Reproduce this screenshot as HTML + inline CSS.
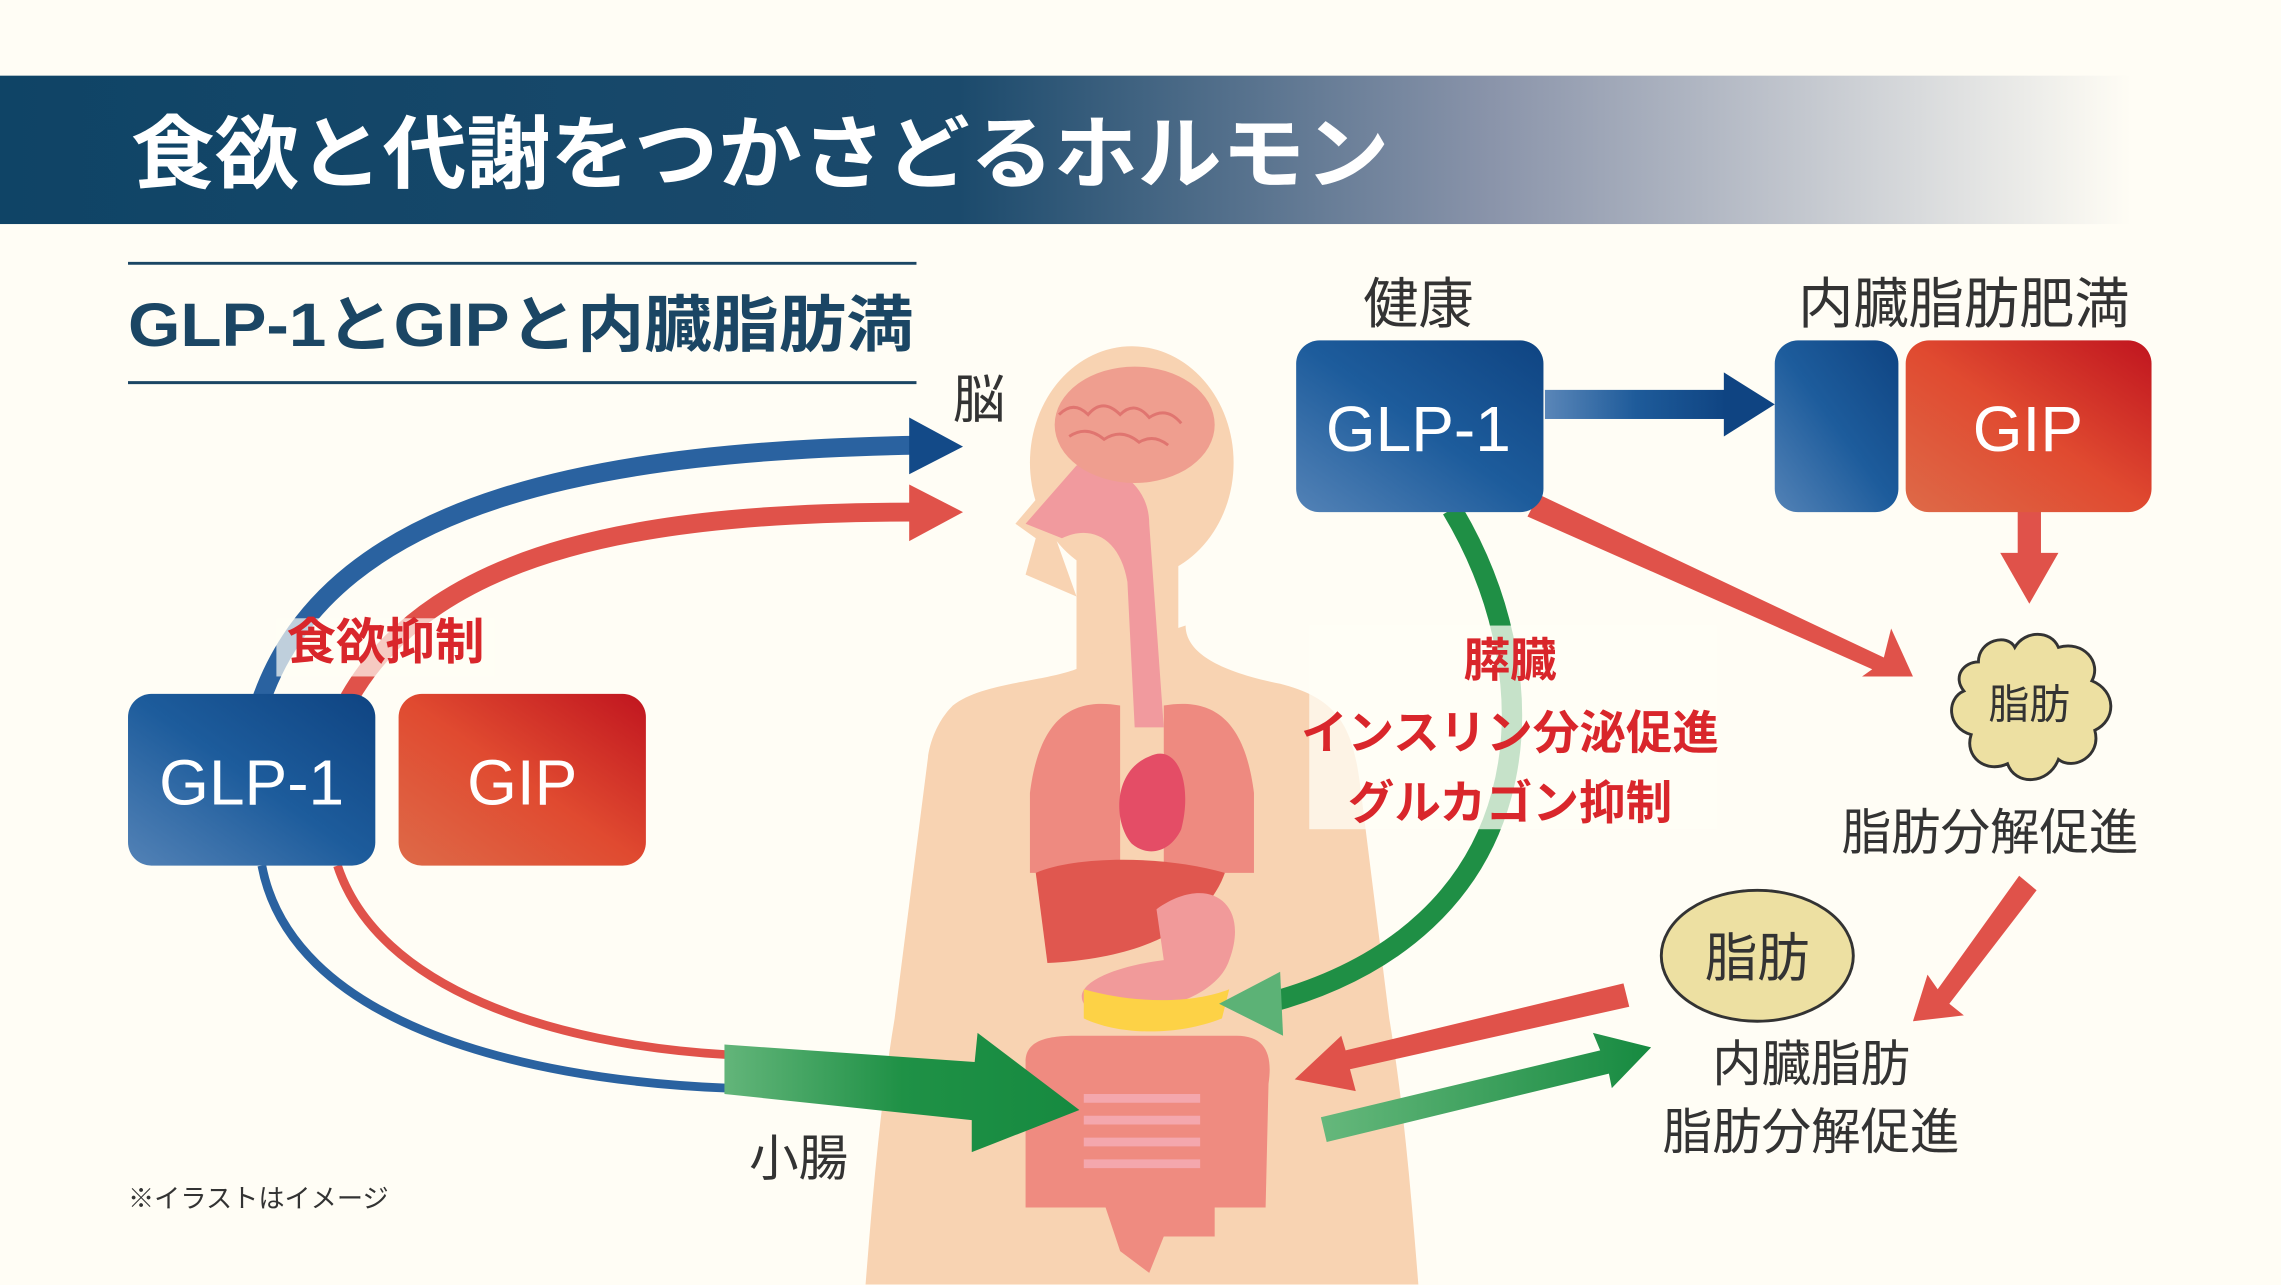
<!DOCTYPE html>
<html><head><meta charset="utf-8"><style>
html,body{margin:0;padding:0;background:#fffdf5;}
svg{display:block;}
text{font-family:"Liberation Sans","Noto Sans CJK JP",sans-serif;}
</style></head><body>
<svg width="2281" height="1285" viewBox="0 0 1568 883.3" xmlns="http://www.w3.org/2000/svg">
<defs>
<linearGradient id="hdr" x1="0" x2="1" y1="0" y2="0">
<stop offset="0" stop-color="#0f4466"/><stop offset="0.45" stop-color="#1b4a6c"/><stop offset="0.7" stop-color="#8a94aa"/><stop offset="1" stop-color="#fffdf5"/></linearGradient>
<linearGradient id="blue" x1="0" y1="1" x2="1" y2="0"><stop offset="0" stop-color="#5382b6"/><stop offset="0.5" stop-color="#1d5c9c"/><stop offset="1" stop-color="#0f4482"/></linearGradient>
<linearGradient id="red" x1="0" y1="1" x2="1" y2="0"><stop offset="0" stop-color="#de6a48"/><stop offset="0.5" stop-color="#e04a30"/><stop offset="1" stop-color="#c0151f"/></linearGradient>
<linearGradient id="grn" x1="0" x2="1"><stop offset="0" stop-color="#63b57a"/><stop offset="0.5" stop-color="#1f9146"/><stop offset="1" stop-color="#168a40"/></linearGradient>
<linearGradient id="grn2" x1="1" x2="0"><stop offset="0" stop-color="#168a40"/><stop offset="1" stop-color="#66b87c"/></linearGradient>
<linearGradient id="barr" x1="0" x2="1"><stop offset="0" stop-color="#5a86b8"/><stop offset="0.5" stop-color="#1e5b9a"/><stop offset="1" stop-color="#0f4482"/></linearGradient>
</defs>
<rect width="1568" height="883.3" fill="#fffdf5"/>
<rect x="0" y="52" width="1465" height="102" fill="url(#hdr)"/>
<text x="90" y="125" font-size="55" font-weight="bold" fill="#fff" textLength="865" lengthAdjust="spacingAndGlyphs">食欲と代謝をつかさどるホルモン</text>
<line x1="88" y1="181" x2="630" y2="181" stroke="#1b4664" stroke-width="2"/>
<line x1="88" y1="263" x2="630" y2="263" stroke="#1b4664" stroke-width="2"/>
<text x="88" y="238" font-size="42" font-weight="bold" fill="#1b4664" textLength="540" lengthAdjust="spacingAndGlyphs">GLP-1とGIPと内臓脂肪満</text>

<!-- body -->
<g fill="#f8d3b2">
<ellipse cx="778" cy="318" rx="70" ry="80"/>
<rect x="740" y="370" width="70" height="100"/>
<path d="M715,340 L698,360 L712,370 L705,395 L740,410 Z"/>
<path d="M755,450 C740,470 680,465 655,485 C640,500 638,520 638,520 L615,700 C605,760 600,820 595,883 L975,883 C970,820 965,760 955,700 L935,540 C930,500 920,480 880,470 C830,460 815,445 815,430 Z"/>
</g>
<g>
<path d="M705,360 L740,320 C760,315 790,330 790,360 L800,500 L780,500 L775,400 C770,370 750,360 730,370 Z" fill="#f19a9e"/>
<ellipse cx="780" cy="292" rx="55" ry="40" fill="#ef9e8f"/>
<path d="M728,285 q10,-10 20,0 q10,-12 22,0 q10,-10 20,2 q12,-8 22,4 M735,300 q12,-8 24,2 q12,-8 24,2 q10,-6 20,2" stroke="#e07570" stroke-width="2" fill="none"/>
<path d="M708,545 C715,490 740,480 770,485 L770,600 L708,600 Z" fill="#ee8a80"/>
<path d="M862,545 C855,490 830,480 800,485 L800,600 L862,600 Z" fill="#ee8a80"/>
<path d="M790,520 C810,510 820,540 812,570 C805,585 790,590 778,580 C765,565 765,530 790,520 Z" fill="#e44d66"/>
<path d="M712,600 C740,588 800,588 842,600 C832,628 800,658 720,662 Z" fill="#e0574f"/>
<path d="M795,625 C830,600 860,620 845,660 C835,690 780,700 750,695 C730,680 760,665 800,660 Z" fill="#f19a9a"/>
<path d="M745,680 C780,690 820,690 845,680 L840,700 C810,712 770,712 745,700 Z" fill="#fdd246"/>
<path d="M705,730 C705,715 720,712 740,712 L850,712 C870,712 875,725 872,745 L870,830 L835,830 L835,850 L800,850 L790,875 L770,860 L760,830 L705,830 Z" fill="#ef8b80"/>
<path d="M745,755 L825,755 M745,770 L825,770 M745,785 L825,785 M745,800 L825,800" stroke="#f4a7ad" stroke-width="6"/>
</g>
<text x="655" y="287" font-size="36" fill="#333">脳</text>
<text x="515" y="808" font-size="34" fill="#333">小腸</text>
<text x="88" y="830" font-size="18" fill="#333">※イラストはイメージ</text>

<!-- left arrows -->
<path d="M180,480 C230,340 420,310 630,306" stroke="#2a62a0" stroke-width="13" fill="none"/>
<polygon points="625,287 662,307 625,326" fill="#134a88"/>
<path d="M240,480 C300,375 450,352 630,352" stroke="#e0524a" stroke-width="13" fill="none"/>
<polygon points="625,333 662,352 625,372" fill="#e0524a"/>
<path d="M180,595 C200,700 350,742 500,748" stroke="#2a62a0" stroke-width="6" fill="none"/>
<path d="M232,595 C260,680 380,718 500,725" stroke="#e0524a" stroke-width="6" fill="none"/>
<polygon points="498,718 670,730 672,710 742,763 668,792 668,770 498,752" fill="url(#grn)"/>
<rect x="190" y="425" width="150" height="40" fill="#fffdf5" opacity="0.7"/>
<text x="265" y="453" font-size="34" font-weight="bold" fill="#d9262b" text-anchor="middle">食欲抑制</text>
<rect x="88" y="477" width="170" height="118" rx="16" fill="url(#blue)"/>
<rect x="274" y="477" width="170" height="118" rx="16" fill="url(#red)"/>
<text x="173" y="553" font-size="44" fill="#fff" text-anchor="middle">GLP-1</text>
<text x="359" y="553" font-size="44" fill="#fff" text-anchor="middle">GIP</text>

<!-- right -->
<text x="975" y="222" font-size="38" fill="#333" text-anchor="middle">健康</text>
<text x="1350" y="222" font-size="38" fill="#333" text-anchor="middle">内臓脂肪肥満</text>
<path d="M998,350 C1070,470 1060,640 870,690" stroke="#1f8f45" stroke-width="14" fill="none"/>
<polygon points="880,668 838,690 882,712" fill="#5cb276"/>
<rect x="900" y="430" width="280" height="140" fill="#fffdf5" opacity="0.75"/>
<rect x="1062" y="268" width="125" height="20" fill="url(#barr)"/>
<polygon points="1185,256 1220,278 1185,300" fill="#0f4482"/>
<polygon points="1058,340 1295,452 1300,432 1315,465 1280,465 1287,460 1050,355" fill="#e0524a"/>
<rect x="1387" y="345" width="16" height="38" fill="#e0524a"/>
<polygon points="1375,380 1395,415 1415,380" fill="#e0524a"/>
<rect x="891" y="234" width="170" height="118" rx="16" fill="url(#blue)"/>
<rect x="1220" y="234" width="85" height="118" rx="16" fill="url(#blue)"/>
<rect x="1310" y="234" width="169" height="118" rx="16" fill="url(#red)"/>
<text x="975" y="310" font-size="44" fill="#fff" text-anchor="middle">GLP-1</text>
<text x="1394" y="310" font-size="44" fill="#fff" text-anchor="middle">GIP</text>
<text x="1038" y="465" font-size="32" font-weight="bold" fill="#d9262b" text-anchor="middle">膵臓</text>
<text x="1038" y="515" font-size="32" font-weight="bold" fill="#d9262b" text-anchor="middle">インスリン分泌促進</text>
<text x="1038" y="563" font-size="32" font-weight="bold" fill="#d9262b" text-anchor="middle">グルカゴン抑制</text>
<path d="M1360,455 C1360,440 1380,435 1385,445 C1392,433 1410,433 1415,445 C1432,440 1445,455 1438,468 C1455,475 1455,495 1440,502 C1445,520 1425,530 1415,522 C1408,540 1385,540 1380,525 C1365,532 1350,520 1355,505 C1338,500 1338,480 1350,475 C1342,465 1350,455 1360,455 Z" fill="#ede0a2" stroke="#333" stroke-width="2"/>
<text x="1395" y="494" font-size="28" fill="#333" text-anchor="middle">脂肪</text>
<text x="1368" y="584" font-size="34" fill="#333" text-anchor="middle">脂肪分解促進</text>
<polygon points="1388,602 1400,612 1340,690 1350,698 1315,702 1325,670 1332,680" fill="#e0524a"/>
<ellipse cx="1208" cy="657" rx="66" ry="45" fill="#ede0a2" stroke="#333" stroke-width="2"/>
<text x="1208" y="671" font-size="36" fill="#333" text-anchor="middle">脂肪</text>
<text x="1245" y="743" font-size="34" fill="#333" text-anchor="middle">内臓脂肪</text>
<text x="1245" y="790" font-size="34" fill="#333" text-anchor="middle">脂肪分解促進</text>
<polygon points="1116,676 1120,692 928,735 932,750 890,742 922,712 925,722" fill="#e0524a"/>
<polygon points="908,768 1100,722 1095,710 1135,720 1108,748 1106,738 912,785" fill="url(#grn2)"/>
</svg>
</body></html>
